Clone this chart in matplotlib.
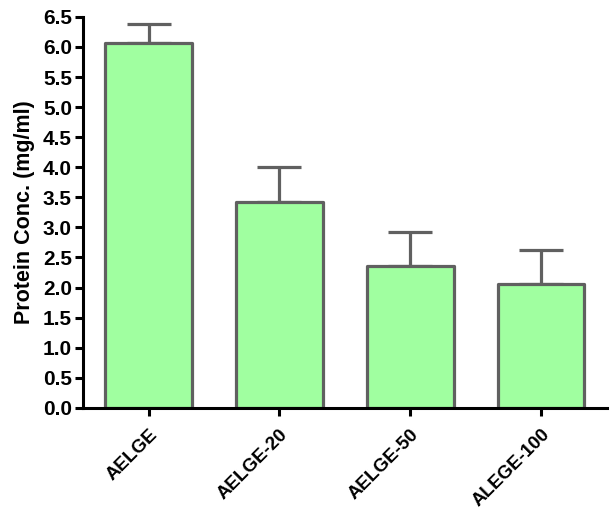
#!/usr/bin/env python3
"""Protein concentration bar chart."""

import matplotlib
matplotlib.use('Agg')
import matplotlib.pyplot as plt
import numpy as np

samples = ['AELGE', 'AELGE-20', 'AELGE-50', 'ALEGE-100']
means = [6.07, 3.42, 2.36, 2.06]
errors = [0.32, 0.58, 0.56, 0.56]


def main():
    plt.rcParams['font.family'] = ['Liberation Sans', 'DejaVu Sans']
    plt.rcParams['font.weight'] = 'bold'

    fig = plt.figure(figsize=(6.11, 5.13), dpi=100)
    ax = fig.add_axes([0.136, 0.205, 0.857, 0.762])

    x = np.arange(len(samples))
    edge = '#606060'
    bars = ax.bar(x, means, width=0.66, color='#a0ffa0', edgecolor=edge,
                  linewidth=2.3, zorder=2)
    for b in bars:
        b.set_joinstyle('round')
    ax.errorbar(x, means, yerr=[np.zeros(len(errors)), errors], fmt='none',
                ecolor=edge, elinewidth=2.3, capsize=15.5, capthick=2.3,
                zorder=1)

    ax.set_xlim(-0.5, 3.5)
    ax.set_ylim(0, 6.5)
    yt = np.arange(0, 6.51, 0.5)
    ax.set_yticks(yt)
    ax.set_yticklabels([f'{v:.1f}' for v in yt], fontsize=15)
    ax.set_xticks(x)
    ax.set_xticklabels(samples, rotation=45, ha='right', va='top',
                       rotation_mode='anchor', fontsize=13.5)
    ax.set_ylabel('Protein Conc. (mg/ml)', fontsize=15.5, fontweight='bold',
                  labelpad=6)

    for s in ['top', 'right']:
        ax.spines[s].set_visible(False)
    for s in ['left', 'bottom']:
        ax.spines[s].set_linewidth(2.2)
        ax.spines[s].set_zorder(3)
    ax.tick_params(axis='both', width=2.2, length=6)
    ax.tick_params(axis='y', pad=2)
    ax.tick_params(axis='x', pad=7)

    fig.savefig('out.png', dpi=100)
    plt.close(fig)


if __name__ == '__main__':
    main()
